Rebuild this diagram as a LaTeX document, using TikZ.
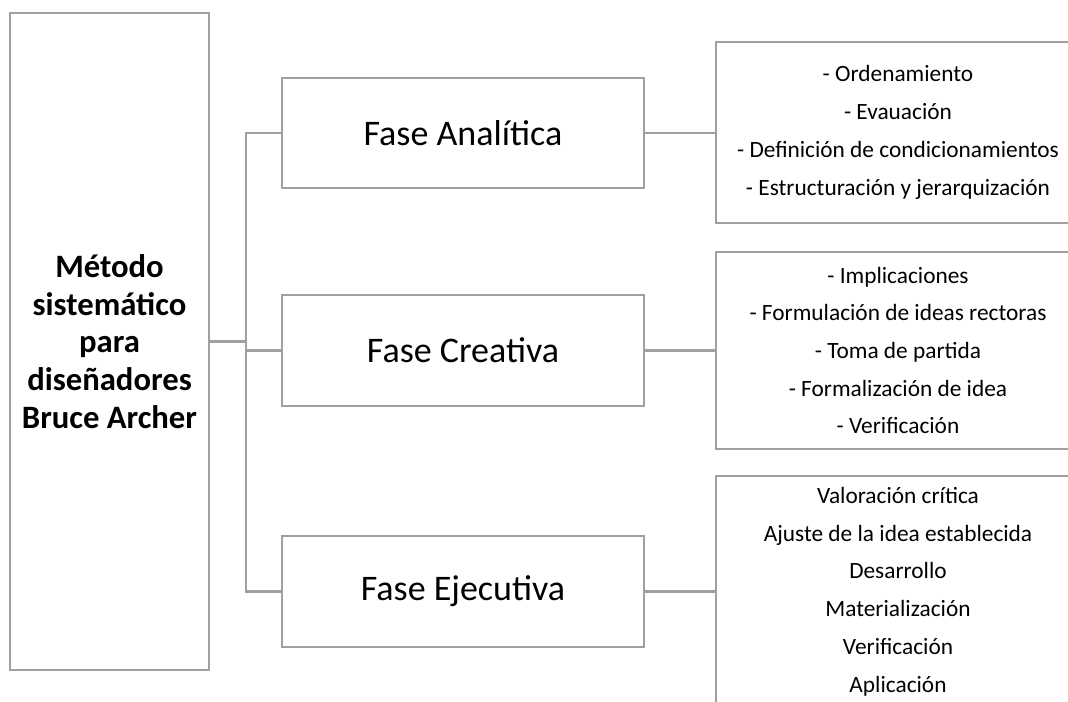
\documentclass[tikz,border=0pt]{standalone}
\usepackage{fontspec}
\setmainfont{Carlito}
\definecolor{linegray}{RGB}{160,160,160}
\begin{document}
\begin{tikzpicture}[x=0.75pt,y=-0.75pt,
  box/.style={draw=linegray, line width=1.6pt, inner sep=0pt, fill=white},
  mainbox/.style={box, minimum width=149.25pt, minimum height=492.75pt, align=center,
    font=\fontsize{24.5pt}{28.2pt}\selectfont\bfseries},
  phasebox/.style={box, minimum width=271.5pt, minimum height=83pt,
    font=\fontsize{27pt}{32pt}\selectfont},
  listbox/.style={box, minimum width=273pt, align=center,
    font=\fontsize{17.5pt}{28.3pt}\selectfont},
  conn/.style={draw=linegray, line width=1.6pt}]
\clip (0,0) rectangle (1068,702);
\fill[white] (0,0) rectangle (1068,702);
\node[mainbox] (main) at (109.5,341.5) {Método\\sistemático\\para\\diseñadores\\Bruce Archer};
\node[phasebox, minimum height=82.5pt] (p1) at (463,133) {Fase Analítica};
\node[phasebox] (p2) at (463,350.5) {Fase Creativa};
\node[phasebox] (p3) at (463,591.5) {Fase Ejecutiva};
\node[listbox, minimum height=135.75pt] (l1) at (898,132.5) {- Ordenamiento\\- Evauación\\- Definición de condicionamientos\\- Estructuración y jerarquización};
\node[listbox, minimum height=147.75pt] (l2) at (898,350.5) {- Implicaciones\\- Formulación de ideas rectoras\\- Toma de partida\\- Formalización de idea\\- Verificación};
\node[listbox, minimum height=173.25pt] (l3) at (898,591.5) {Valoración crítica\\Ajuste de la idea establecida\\Desarrollo\\Materialización\\Verificación\\Aplicación};
\coordinate (trunk) at (246,0);
\draw[conn] (main.east) -- (main.east -| trunk);
\draw[conn] (p1.west) -- (p1.west -| trunk) -- (p3.west -| trunk) -- (p3.west);
\draw[conn] (p2.west -| trunk) -- (p2.west);
\draw[conn] (p1.east) -- (p1.east -| l1.west);
\draw[conn] (p2.east) -- (p2.east -| l2.west);
\draw[conn] (p3.east) -- (p3.east -| l3.west);
\end{tikzpicture}
\end{document}
